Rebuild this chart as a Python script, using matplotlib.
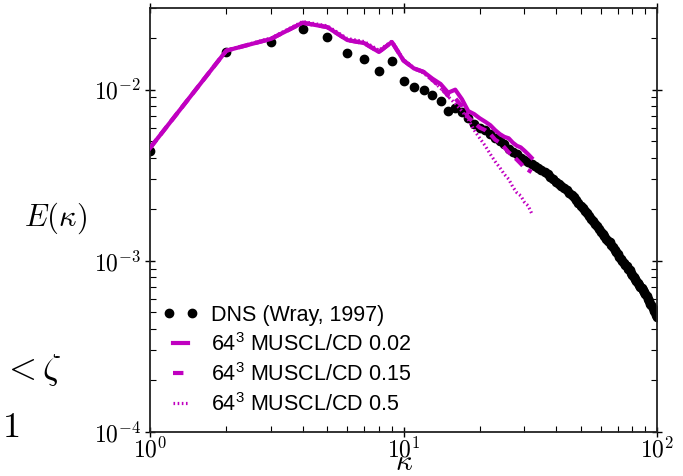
import matplotlib
matplotlib.use("Agg")
import matplotlib.pyplot as plt
from matplotlib.ticker import FuncFormatter, NullFormatter
from matplotlib.font_manager import FontProperties
from matplotlib.legend_handler import HandlerLine2D
import math

plt.rcParams['mathtext.fontset'] = 'cm'
plt.rcParams['mathtext.rm'] = 'Liberation Sans'
plt.rcParams['mathtext.it'] = 'Liberation Sans:italic'
plt.rcParams['mathtext.bf'] = 'Liberation Sans:bold'

# DNS (Wray, 1997) spectrum, kappa = 1..100
dns_k = list(range(1, 101))
dns_E = [
    0.00437, 0.0165, 0.0189, 0.0225, 0.0202, 0.0164, 0.0152, 0.0128, 0.0148, 0.01125,
    0.0104, 0.0100, 0.0093, 0.0086, 0.0075, 0.0078, 0.0074, 0.0068, 0.0063, 0.0060,
    0.0058, 0.0055, 0.0052, 0.0050, 0.0048, 0.0045, 0.0043, 0.0042, 0.0040, 0.0039,
    0.0038, 0.0037, 0.0036, 0.0035, 0.0034, 0.0033, 0.0032, 0.0031, 0.0030, 0.0029,
    0.00282, 0.00274, 0.00266, 0.00258, 0.0025, 0.00243, 0.00235, 0.00228, 0.00218, 0.0021,
    0.00203, 0.00196, 0.0019, 0.00183, 0.00176, 0.0017, 0.00164, 0.00159, 0.00153, 0.00148,
    0.00143, 0.00139, 0.00135, 0.00131, 0.00128, 0.00124, 0.0012, 0.00116, 0.00113, 0.0011,
    0.00106, 0.00103, 0.0010, 0.00097, 0.00095, 0.00093, 0.0009, 0.00088, 0.00085, 0.00083,
    0.0008, 0.00078, 0.00076, 0.00074, 0.00072, 0.0007, 0.00069, 0.00068, 0.00066, 0.00064,
    0.00062, 0.0006, 0.00058, 0.00056, 0.00055, 0.00053, 0.00051, 0.0005, 0.00048, 0.00047,
]

# 64^3 MUSCL/CD simulations, kappa = 1..32
les_k = list(range(1, 33))
E_002 = [
    0.00456, 0.0169, 0.0198, 0.0246, 0.0232, 0.0195, 0.0187, 0.0166, 0.0190, 0.0148,
    0.0133, 0.0127, 0.0116, 0.0108, 0.0096, 0.0100, 0.0088, 0.0075, 0.0072, 0.0068,
    0.0065, 0.0062, 0.0058, 0.0055, 0.0053, 0.0052, 0.0049, 0.0047, 0.0046, 0.0044,
    0.0042, 0.0040,
]
E_015 = [
    0.00456, 0.0169, 0.0198, 0.0246, 0.0232, 0.0195, 0.0187, 0.0166, 0.0190, 0.0148,
    0.0133, 0.0127, 0.0114, 0.0104, 0.0092, 0.0089, 0.0080, 0.0069, 0.0064, 0.0060,
    0.0058, 0.0055, 0.0051, 0.0049, 0.0046, 0.0043, 0.0041, 0.0039, 0.0037, 0.0035,
    0.0034, 0.0033,
]
E_05 = [
    0.00456, 0.0170, 0.0200, 0.0250, 0.0236, 0.0199, 0.0191, 0.0170, 0.0192, 0.0150,
    0.0134, 0.0125, 0.0113, 0.0102, 0.0091, 0.0083, 0.0075, 0.0067, 0.0058, 0.0052,
    0.0047, 0.0042, 0.0038, 0.0035, 0.0032, 0.0030, 0.0027, 0.0025, 0.0024, 0.0022,
    0.0021, 0.0019,
]

labels = ["DNS (Wray, 1997)", r"64$^3$ MUSCL/CD 0.02", r"64$^3$ MUSCL/CD 0.15", r"64$^3$ MUSCL/CD 0.5"]
mag = '#C000C0'

fig = plt.figure(figsize=(6.83, 4.76), dpi=100)
ax = fig.add_axes([150/683, 1-432/476, (657-150)/683, (432-8)/476])

h0, = ax.plot(dns_k, dns_E, 'o', color='black', ms=6, mec='black', zorder=2, label=labels[0])
h3, = ax.plot(les_k, E_05, color=mag, lw=2.3, linestyle=(0, (0.5, 0.8)), zorder=3, label=labels[3])
h2, = ax.plot(les_k, E_015, color=mag, lw=3, linestyle=(0, (2.5, 1.6)), zorder=4, label=labels[2])
h1, = ax.plot(les_k, E_002, color=mag, lw=3, zorder=5, label=labels[1])

ax.set_xscale('log')
ax.set_yscale('log')
ax.set_xlim(1, 100)
ax.set_ylim(1e-4, 0.030)

fmt = FuncFormatter(lambda v, p: r'$10^{%d}$' % int(round(math.log10(v))))
ax.xaxis.set_major_formatter(fmt)
ax.yaxis.set_major_formatter(fmt)
ax.xaxis.set_minor_formatter(NullFormatter())
ax.yaxis.set_minor_formatter(NullFormatter())

for s in ax.spines.values():
    s.set_linewidth(1.3)
    s.set_color('#222222')

ax.tick_params(which='major', direction='inout', length=7, width=1.0, top=True, right=True,
               labelsize=17, pad=3)
ax.tick_params(which='minor', direction='in', length=4, width=0.8, top=True, right=True)
ax.tick_params(axis='x', which='major', pad=0)

fig.text(404/683, 0.0, r'$\kappa$', fontsize=21, ha='center', va='bottom')
fig.text(55/683, 1-218/476, r'$E(\kappa)$', fontsize=22, ha='center', va='center')

prop = FontProperties(family='Liberation Sans', size=15.5, math_fontfamily='custom')
leg = ax.legend(handles=[h0, h1, h2, h3], labels=labels, loc='lower left',
                bbox_to_anchor=(0.0, 0.0), frameon=False, numpoints=2,
                prop=prop, handler_map={h0: HandlerLine2D(marker_pad=0.12, numpoints=2)},
                handlelength=1.3, handletextpad=0.8, labelspacing=0.33, borderaxespad=0.35)

# stray page text at left edge of the cropped figure
fig.text(2/683, 1-370/476, r'$<\zeta$', fontsize=26, ha='left', va='center')
fig.text(2/683, 1-427/476, r'$1$', fontsize=26, ha='left', va='center')

fig.savefig('out.png', dpi=100)
